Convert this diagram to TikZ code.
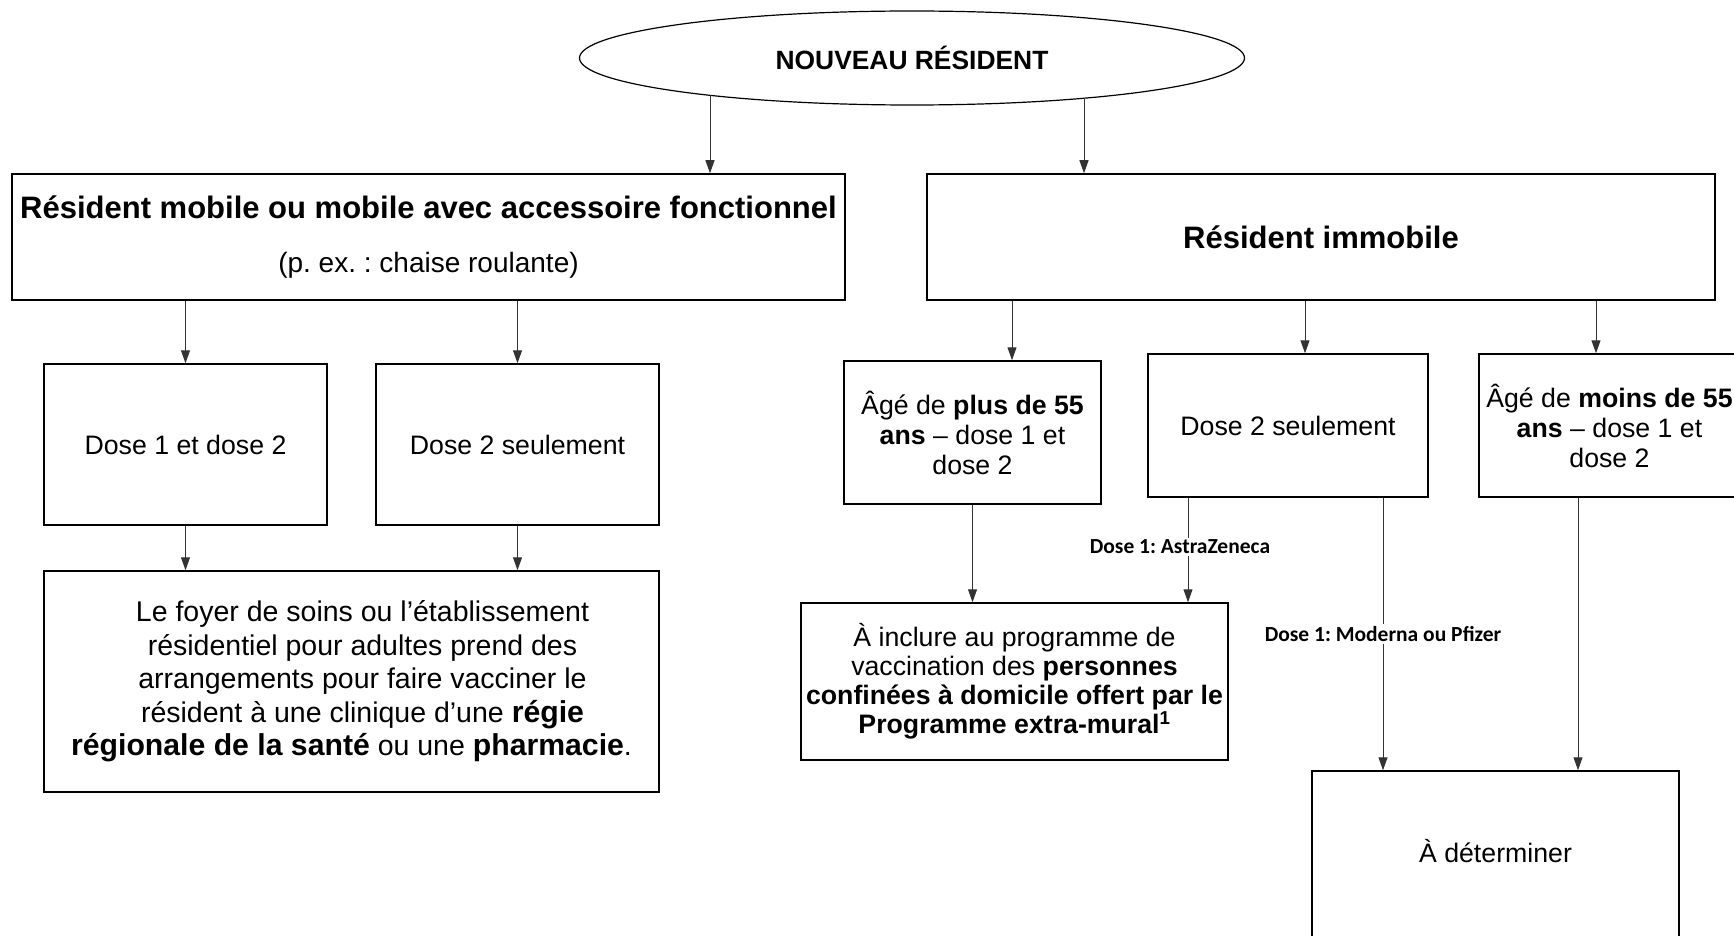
\documentclass[tikz,border=0pt]{standalone}
\usepackage{fontspec}
\setmainfont{Liberation Sans}
\newfontfamily\calibrifont{Carlito}
\usetikzlibrary{shapes.geometric,arrows.meta}
\frenchspacing
\newcommand\bbig[1]{{\bfseries\fontsize{30.2}{34}\selectfont #1}}
\begin{document}
\begin{tikzpicture}[x=1pt,y=-1pt,
  box/.style={draw=black, line width=1.5pt, inner sep=0pt, align=center, rectangle},
  txt/.style={font=\fontsize{26.7}{30}\selectfont},
  arr/.style={draw=black!80, line width=1pt, -{Triangle[length=13pt,width=9pt]}},
  lbl/.style={font=\calibrifont\bfseries\fontsize{21.5}{24}\selectfont, fill=white, inner sep=2pt}
]
\useasboundingbox (0,0) rectangle (1734,936);
\fill[white] (0,0) rectangle (1734,936);

\node[ellipse, draw, line width=1.2pt, minimum width=665pt, minimum height=94pt, inner sep=0pt,
      font=\bfseries\fontsize{26.4}{30}\selectfont] (ell) at (912,58) {NOUVEAU RÉSIDENT};

\node[box, minimum width=833pt, minimum height=126pt, font=\fontsize{28}{54}\selectfont] (L1) at (428.5,237)
  {{\fontsize{31}{36}\selectfont\bfseries Résident mobile ou mobile avec accessoire fonctionnel}\\(p. ex. : chaise roulante)};
\node[box, minimum width=788pt, minimum height=126pt, font=\bfseries\fontsize{31}{36}\selectfont] (R1) at (1321,237) {Résident immobile};

\node[box, txt, minimum width=283pt, minimum height=161pt] (L2a) at (185.5,444.5) {Dose 1 et dose 2};
\node[box, txt, minimum width=283pt, minimum height=161pt] (L2b) at (517.5,444.5) {Dose 2 seulement};

\node[box, font=\fontsize{28.5}{33.5}\selectfont, minimum width=615pt, minimum height=221pt] (L3) at (351.5,681.5)
  {\hspace*{22pt}Le foyer de soins ou l’établissement\\\hspace*{22pt}résidentiel pour adultes prend des\\\hspace*{22pt}arrangements pour faire vacciner le\\\hspace*{22pt}résident à une clinique d’une \bbig{régie}\\\bbig{régionale de la santé} ou une \bbig{pharmacie}.};

\node[box, txt, minimum width=257pt, minimum height=143pt] (R2a) at (972.5,432.5)
  {Âgé de \textbf{plus de 55}\\\textbf{ans} – dose 1 et\\dose 2};
\node[box, txt, minimum width=280pt, minimum height=143pt] (R2b) at (1288,425.5) {Dose 2 seulement};
\node[box, txt, minimum width=261pt, minimum height=143pt] (R2c) at (1609.5,425.5)
  {Âgé de \textbf{moins de 55}\\\textbf{ans} – dose 1 et\\dose 2};

\node[box, font=\fontsize{26.7}{29}\selectfont, minimum width=427pt, minimum height=157pt] (R3a) at (1014.5,681.5)
  {À inclure au programme de\\vaccination des \textbf{personnes}\\\textbf{confinées à domicile offert par le}\\\textbf{Programme extra-mural\textsuperscript{1}}};
\node[box, txt, text depth=11pt, minimum width=367pt, minimum height=170pt] (R3b) at (1495.5,856) {À déterminer};

\coordinate (e1) at (710,95.4);
\coordinate (e2) at (1084,98.1);
\coordinate (c1) at (1012,0);
\coordinate (c2) at (1305,0);
\coordinate (c3) at (1596,0);
\coordinate (c4) at (1188,0);
\coordinate (c5) at (1383,0);
\coordinate (c6) at (1578,0);

\draw[arr] (e1) -- (e1 |- L1.north);
\draw[arr] (e2) -- (e2 |- R1.north);

\draw[arr] (L2a.north |- L1.south) -- (L2a.north);
\draw[arr] (L2b.north |- L1.south) -- (L2b.north);
\draw[arr] (L2a.south) -- (L2a.south |- L3.north);
\draw[arr] (L2b.south) -- (L2b.south |- L3.north);

\draw[arr] (c1 |- R1.south) -- (c1 |- R2a.north);
\draw[arr] (c2 |- R1.south) -- (c2 |- R2b.north);
\draw[arr] (c3 |- R1.south) -- (c3 |- R2c.north);
\draw[arr] (R2a.south) -- (R2a.south |- R3a.north);
\draw[arr] (c4 |- R2b.south) -- node[lbl, pos=0.47, xshift=-8pt] {Dose 1: AstraZeneca} (c4 |- R3a.north);
\draw[arr] (c5 |- R2b.south) -- node[lbl, pos=0.5] {Dose 1: Moderna ou Pfizer} (c5 |- R3b.north);
\draw[arr] (c6 |- R2c.south) -- (c6 |- R3b.north);
\end{tikzpicture}
\end{document}
